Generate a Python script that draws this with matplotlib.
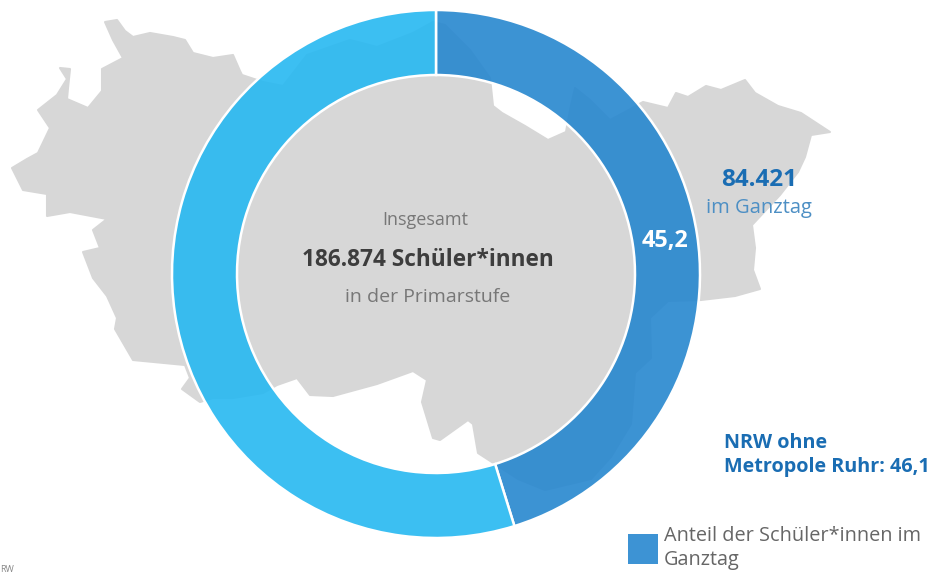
import matplotlib
matplotlib.use("Agg")
import matplotlib.pyplot as plt
from matplotlib.patches import Patch, Polygon

# Data
shares = [45.2, 54.8]
share_label = "45,2"
ring_colors = ["#2787cf", "#27b8f1"]
total_lines = ["Insgesamt", "186.874 Schüler*innen", "in der Primarstufe"]
ganztag_lines = ["84.421", "im Ganztag"]
nrw_lines = "NRW ohne\nMetropole Ruhr: 46,1"
legend_label = "Anteil der Schüler*innen im\nGanztag"

# Map outline behind the ring, in image pixels
map_outline = [
    (105, 22), (117, 20), (125, 31), (133, 37), (150, 33), (173, 37), (185, 40), (193, 53),
    (213, 58), (233, 55), (240, 71), (242, 75), (263, 82), (283, 86), (307, 55), (350, 40),
    (377, 47), (413, 33), (433, 22), (445, 25), (470, 50), (490, 78), (493, 106), (502, 113),
    (525, 126), (548, 140), (566, 132), (570, 110), (575, 88), (590, 100), (610, 120), (625, 112),
    (643, 102), (668, 108), (676, 93), (688, 97), (706, 86), (721, 90), (745, 80), (755, 93),
    (778, 106), (801, 113), (830, 132), (811, 135), (805, 157), (798, 172), (780, 195), (752, 225),
    (755, 248), (753, 270), (760, 289), (735, 296), (701, 300), (668, 301), (650, 318), (651, 358),
    (635, 373), (631, 424), (611, 457), (591, 479), (545, 490), (518, 479), (498, 466), (478, 453),
    (473, 424), (468, 420), (440, 440), (433, 438), (422, 402), (427, 380), (413, 371), (377, 384),
    (333, 396), (310, 395), (297, 378), (277, 385), (263, 393), (233, 398), (213, 398), (200, 402),
    (182, 389), (190, 378), (185, 365), (133, 360), (115, 329), (117, 318), (107, 296), (93, 278),
    (83, 252), (100, 248), (93, 230), (107, 219), (70, 212), (47, 216), (47, 194), (23, 190),
    (12, 168), (27, 159), (38, 153), (50, 128), (38, 110), (57, 95), (67, 79), (60, 68),
    (70, 69), (68, 88), (67, 99), (88, 108), (102, 91), (102, 69), (123, 58), (113, 40),
]

W, H = 936, 573
cx, cy, r_out, r_in = 436, 274, 264, 199

plt.rcParams["font.family"] = ["Open Sans", "DejaVu Sans"]
fig = plt.figure(figsize=(W / 100, H / 100), dpi=100, facecolor="white")

# Pixel axes for map
ax = fig.add_axes([0, 0, 1, 1])
ax.set_xlim(0, W)
ax.set_ylim(H, 0)
ax.axis("off")
ax.add_patch(Polygon(map_outline, closed=True, facecolor="#d7d7d7", edgecolor="#d7d7d7",
                     linewidth=1.5, joinstyle="round", zorder=1))

# Ring
pie_ax = fig.add_axes([(cx - r_out) / W, 1 - (cy + r_out) / H, 2 * r_out / W, 2 * r_out / H])
pie_ax.patch.set_alpha(0)
wedges, _ = pie_ax.pie(
    shares, startangle=90, counterclock=False, radius=1,
    colors=[matplotlib.colors.to_rgba(c, 0.9) for c in ring_colors],
    wedgeprops=dict(width=1 - r_in / r_out, edgecolor="white", linewidth=1.8),
)
pie_ax.set_xlim(-1, 1)
pie_ax.set_ylim(-1, 1)

# Text on top
top_ax = fig.add_axes([0, 0, 1, 1])
top_ax.set_xlim(0, W)
top_ax.set_ylim(H, 0)
top_ax.axis("off")

top_ax.text(425, 220, total_lines[0], ha="center", va="center", fontsize=13, color="#777777")
top_ax.text(428, 260, total_lines[1], ha="center", va="center", fontsize=16.3, fontweight="bold", color="#3d3d3d")
top_ax.text(428, 297, total_lines[2], ha="center", va="center", fontsize=14, color="#777777")
top_ax.text(665, 241, share_label, ha="center", va="center", fontsize=16.8, fontweight="bold", color="white")
top_ax.text(759, 180, ganztag_lines[0], ha="center", va="center", fontsize=17.5, fontweight="bold", color="#1a6db3")
top_ax.text(759, 208, ganztag_lines[1], ha="center", va="center", fontsize=14.5, color="#4d8fc4")
top_ax.text(724, 455, nrw_lines, ha="left", va="center", fontsize=14.2, fontweight="bold", color="#1a6db3", linespacing=1.25)

legend = top_ax.legend(
    handles=[Patch(facecolor="#3d93d4", edgecolor="none")], labels=[legend_label],
    loc="center left", bbox_to_anchor=(628 / W, 1 - 548 / H), bbox_transform=fig.transFigure,
    frameon=False, fontsize=14.3, labelcolor="#666666", handlelength=1.51, handleheight=1.9,
    handletextpad=0.3, borderaxespad=0, borderpad=0, labelspacing=0,
)
legend.get_texts()[0].set_linespacing(1.3)

top_ax.text(0, 569, "RW", ha="left", va="center", fontsize=6.5, color="#888888")

fig.savefig("out.png", dpi=100)
